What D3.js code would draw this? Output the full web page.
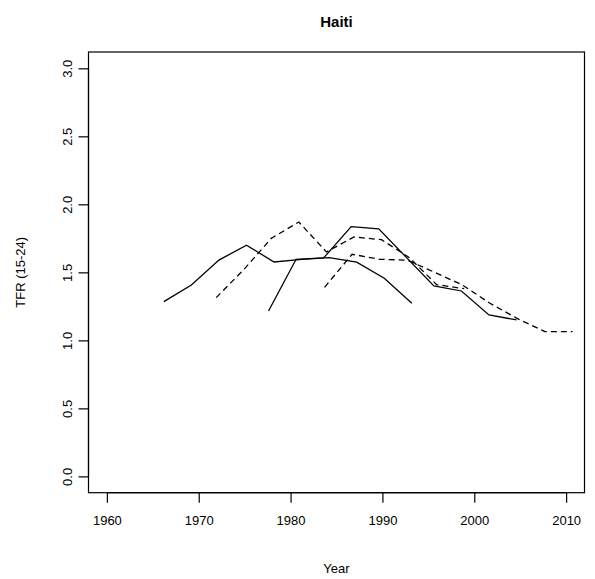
<!DOCTYPE html>
<html>
<head>
<meta charset="utf-8">
<script src="https://cdn.jsdelivr.net/npm/d3@7"></script>
<style>
  html, body { margin: 0; padding: 0; background: #fff; }
  svg { display: block; font-family: "Liberation Sans", Arial, Helvetica, sans-serif; }
</style>
</head>
<body>
<svg id="chart" width="595" height="579"></svg>
<script>
// ---- data ----
const title = "Haiti";
const xLabel = "Year";
const yLabel = "TFR (15-24)";
const xTicks = [1960, 1970, 1980, 1990, 2000, 2010];
const yTicks = [0.0, 0.5, 1.0, 1.5, 2.0, 2.5, 3.0];

// survey 1 (solid)
const s1Years = [1966.2, 1969.2, 1972.2, 1975.2, 1978.2, 1981.2, 1984.2, 1987.2, 1990.2, 1993.2];
const s1Values = [1.285, 1.407, 1.59, 1.70, 1.576, 1.596, 1.608, 1.575, 1.457, 1.273];
// survey 2 (dashed)
const s2Years = [1971.9, 1974.9, 1977.9, 1980.9, 1983.9, 1986.9, 1989.9, 1992.9, 1995.9, 1998.9];
const s2Values = [1.314, 1.52, 1.75, 1.87, 1.65, 1.76, 1.74, 1.61, 1.41, 1.38];
// survey 3 (solid)
const s3Years = [1977.6, 1980.6, 1983.6, 1986.6, 1989.6, 1992.6, 1995.6, 1998.6, 2001.6, 2004.6];
const s3Values = [1.216, 1.596, 1.606, 1.836, 1.82, 1.61, 1.40, 1.363, 1.187, 1.15];
// survey 4 (dashed)
const s4Years = [1983.7, 1986.7, 1989.7, 1992.7, 1995.7, 1998.7, 2001.7, 2004.7, 2007.7, 2010.7];
const s4Values = [1.39, 1.633, 1.596, 1.59, 1.50, 1.407, 1.273, 1.16, 1.064, 1.064];

const series = [
  {years: s1Years, values: s1Values, dashed: false},
  {years: s2Years, values: s2Values, dashed: true},
  {years: s3Years, values: s3Values, dashed: false},
  {years: s4Years, values: s4Values, dashed: true}
];

// ---- layout ----
const box = {left: 88.5, right: 584.5, top: 52, bottom: 492.7};
const svg = d3.select("#chart");

const x = d3.scaleLinear().domain([1958, 2012]).range([box.left, box.right]);
const y = d3.scaleLinear().domain([-0.12, 3.12]).range([box.bottom, box.top]);

// plot box
svg.append("rect")
  .attr("x", box.left).attr("y", box.top)
  .attr("width", box.right - box.left).attr("height", box.bottom - box.top)
  .attr("fill", "none").attr("stroke", "#000").attr("stroke-width", 1.2);

// x axis
const xAxis = d3.axisBottom(x).tickValues(xTicks).tickSize(10).tickPadding(13)
  .tickFormat(d3.format("d"));
const gx = svg.append("g").attr("transform", `translate(0,${box.bottom})`).call(xAxis);
gx.select(".domain").attr("d", `M${x(xTicks[0])},0H${x(xTicks[xTicks.length-1])}`).attr("stroke-width", 1.2);
gx.selectAll(".tick line").attr("stroke-width", 1.2);
gx.selectAll("text").attr("font-size", 13).attr("fill", "#000")
  .style("font-family", "'Liberation Sans', Arial, sans-serif");

// y axis
const yAxis = d3.axisLeft(y).tickValues(yTicks).tickSize(10).tickPadding(0)
  .tickFormat(d3.format(".1f"));
const gy = svg.append("g").attr("transform", `translate(${box.left},0)`).call(yAxis);
gy.select(".domain").attr("d", `M0,${y(yTicks[0])}V${y(yTicks[yTicks.length-1])}`).attr("stroke-width", 1.2);
gy.selectAll(".tick line").attr("stroke-width", 1.2);
gy.selectAll("text")
  .attr("x", null).attr("dy", null)
  .attr("transform", "translate(-21,0) rotate(-90)")
  .attr("text-anchor", "middle")
  .attr("dominant-baseline", "central")
  .attr("font-size", 13).attr("fill", "#000")
  .style("font-family", "'Liberation Sans', Arial, sans-serif");

// lines
const line = d3.line().x(d => x(d[0])).y(d => y(d[1]));
series.forEach(s => {
  svg.append("path")
    .datum(d3.zip(s.years, s.values))
    .attr("d", line)
    .attr("fill", "none")
    .attr("stroke", "#000")
    .attr("stroke-width", 1.3)
    .attr("stroke-dasharray", s.dashed ? "6,4" : null);
});

// title and labels
const cx = (box.left + box.right) / 2;
svg.append("text").attr("x", cx).attr("y", 27)
  .attr("text-anchor", "middle").attr("font-size", 15).attr("font-weight", "bold")
  .text(title);
svg.append("text").attr("x", cx).attr("y", 573)
  .attr("text-anchor", "middle").attr("font-size", 13).text(xLabel);
svg.append("text")
  .attr("transform", `translate(25,${(box.top + box.bottom) / 2}) rotate(-90)`)
  .attr("text-anchor", "middle").attr("font-size", 13).text(yLabel);
</script>
</body>
</html>
